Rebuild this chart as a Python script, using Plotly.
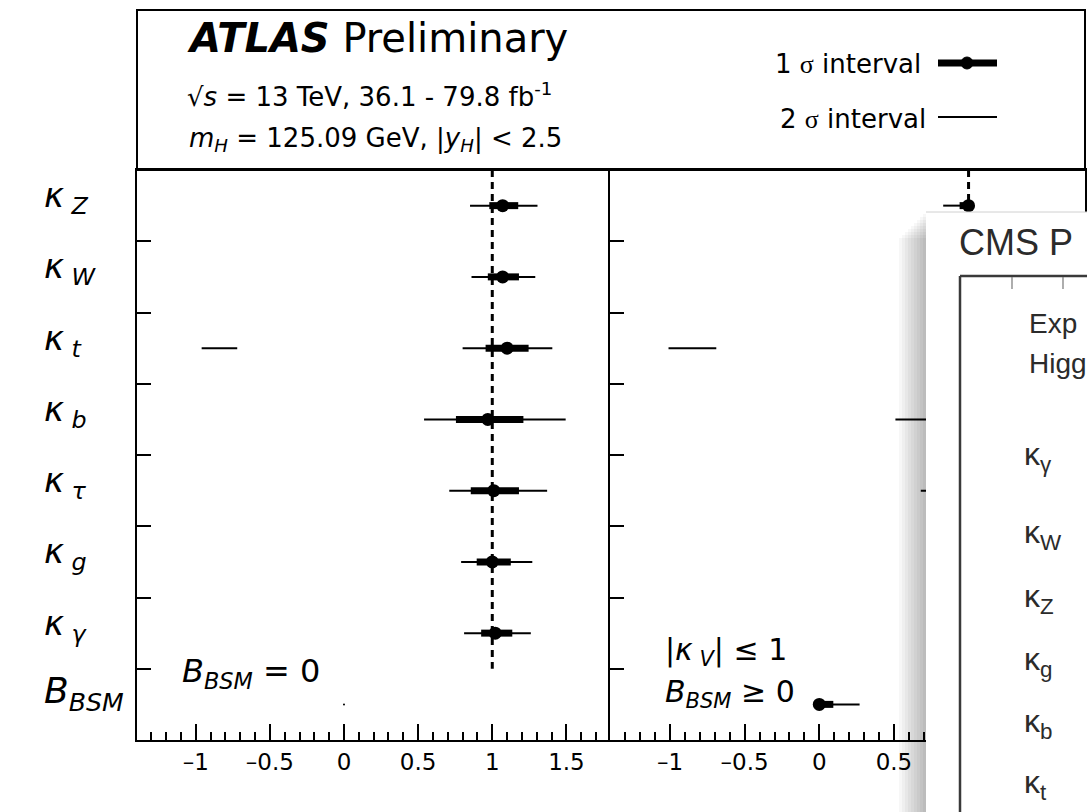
import plotly.graph_objects as go

W, H = 1087, 812

# ---------------- data ----------------
parameter_labels = [
    "<i>κ</i><sub><i> Z</i></sub>",
    "<i>κ</i><sub><i> W</i></sub>",
    "<i>κ</i><sub><i> t</i></sub>",
    "<i>κ</i><sub><i> b</i></sub>",
    "<i>κ</i><sub><i> τ</i></sub>",
    "<i>κ</i><sub><i> g</i></sub>",
    "<i>κ</i><sub><i> γ</i></sub>",
    "<i>B</i><sub><i>BSM</i></sub>",
]

# left panel (B_BSM = 0): kZ, kW, kt, kb, ktau, kg, kgamma
left_central = [1.07, 1.07, 1.10, 0.97, 1.01, 1.00, 1.02]
left_1s_low = [0.98, 0.97, 0.955, 0.755, 0.855, 0.895, 0.925]
left_1s_high = [1.175, 1.18, 1.245, 1.21, 1.18, 1.125, 1.135]
left_2s_low = [0.85, 0.86, 0.80, 0.54, 0.71, 0.79, 0.81]
left_2s_high = [1.305, 1.29, 1.405, 1.495, 1.37, 1.27, 1.26]
left_extra_row = [2]
left_extra_low = [-0.96]
left_extra_high = [-0.72]
left_bbsm_fixed = [0.0]

# right panel (|kV| <= 1, B_BSM >= 0): kZ, kW, kt, kb, ktau, kg, kgamma, B_BSM
right_central = [1.00, 1.00, 1.00, 0.93, 0.97, 0.98, 0.98, 0.00]
right_1s_low = [0.94, 0.93, 0.90, 0.74, 0.84, 0.89, 0.91, 0.00]
right_1s_high = [1.00, 1.00, 1.10, 1.12, 1.10, 1.08, 1.07, 0.094]
right_2s_low = [0.83, 0.86, 0.82, 0.51, 0.68, 0.80, 0.82, 0.00]
right_2s_high = [1.00, 1.00, 1.22, 1.40, 1.25, 1.20, 1.18, 0.27]
right_extra_row = [2]
right_extra_low = [-1.01]
right_extra_high = [-0.69]

x_tick_values = [-1, -0.5, 0, 0.5, 1, 1.5]
x_tick_text = ["–1", "–0.5", "0", "0.5", "1", "1.5"]

cms_labels = ["κ<sub>γ</sub>", "κ<sub>W</sub>", "κ<sub>Z</sub>",
              "κ<sub>g</sub>", "κ<sub>b</sub>", "κ<sub>t</sub>"]

# ---------------- layout helpers ----------------
SANS = "DejaVu Sans"
HELV = "Liberation Sans"


def px(xp):
    return xp / W


def py(yp):
    return 1 - yp / H


def seg(lows, highs, rows):
    xs, ys = [], []
    for lo, hi, r in zip(lows, highs, rows):
        xs += [lo, hi, None]
        ys += [r, r, None]
    return xs, ys


fig = go.Figure()


def add_panel(xa, ya, central, l1, h1, l2, h2, erow, elo, ehi):
    rows = list(range(len(central)))
    fig.add_trace(go.Scatter(x=[1, 1], y=[-0.5, 6.5], mode="lines",
                             line=dict(color="black", width=3, dash="7px,5px"),
                             xaxis=xa, yaxis=ya, hoverinfo="skip", showlegend=False))
    xs, ys = seg(l2, h2, rows)
    exs, eys = seg(elo, ehi, erow)
    fig.add_trace(go.Scatter(x=xs + exs, y=ys + eys, mode="lines",
                             line=dict(color="black", width=2),
                             xaxis=xa, yaxis=ya, hoverinfo="skip", showlegend=False))
    xs, ys = seg(l1, h1, rows)
    fig.add_trace(go.Scatter(x=xs, y=ys, mode="lines",
                             line=dict(color="black", width=7),
                             xaxis=xa, yaxis=ya, hoverinfo="skip", showlegend=False))
    fig.add_trace(go.Scatter(x=central, y=rows, mode="markers",
                             marker=dict(color="black", size=13),
                             xaxis=xa, yaxis=ya, hoverinfo="skip", showlegend=False))


add_panel("x", "y", left_central, left_1s_low, left_1s_high, left_2s_low, left_2s_high,
          left_extra_row, left_extra_low, left_extra_high)
fig.add_trace(go.Scatter(x=left_bbsm_fixed, y=[7], mode="markers",
                         marker=dict(color="black", size=2),
                         xaxis="x", yaxis="y", hoverinfo="skip", showlegend=False))
add_panel("x2", "y2", right_central, right_1s_low, right_1s_high, right_2s_low, right_2s_high,
          right_extra_row, right_extra_low, right_extra_high)

ydom = [py(740), py(170)]
xaxis_common = dict(showline=True, linewidth=2, linecolor="black", mirror=True,
                    ticks="inside", ticklen=16, tickwidth=1.5, tickcolor="black",
                    tickvals=x_tick_values, ticktext=x_tick_text,
                    tickfont=dict(family=SANS, size=23, color="black"),
                    ticklabelstandoff=0,
                    minor=dict(dtick=0.1, tick0=0, ticks="inside", ticklen=8,
                               tickwidth=1.5, tickcolor="black", showgrid=False),
                    showgrid=False, zeroline=False)
yaxis_common = dict(range=[7.5, -0.5], showline=True, linewidth=2, linecolor="black",
                    ticks="inside", ticklen=14, tickwidth=1.5,
                    tickcolor="black", tickvals=[0.5, 1.5, 2.5, 3.5, 4.5, 5.5, 6.5],
                    showticklabels=False, showgrid=False, zeroline=False, domain=ydom)

fig.update_layout(
    width=W, height=H, margin=dict(l=0, r=0, t=0, b=0),
    paper_bgcolor="white", plot_bgcolor="white", showlegend=False,
    xaxis=dict(domain=[px(137), px(610)], range=[-1.396, 1.794], anchor="y", **xaxis_common),
    xaxis2=dict(domain=[px(610), px(1085)], range=[-1.402, 1.780], anchor="y2", **xaxis_common),
    yaxis=dict(anchor="x", mirror=False, **yaxis_common),
    yaxis2=dict(anchor="x2", mirror=True, **yaxis_common),
)

shapes = []
# header box
shapes.append(dict(type="rect", xref="paper", yref="paper", x0=px(137), x1=px(1085),
                   y0=py(170), y1=py(10), line=dict(color="black", width=2), layer="below"))
# legend glyphs
shapes.append(dict(type="line", xref="paper", yref="paper", x0=px(938), x1=px(997),
                   y0=py(63), y1=py(63), line=dict(color="black", width=7)))
shapes.append(dict(type="circle", xref="paper", yref="paper", x0=px(961), x1=px(973),
                   y0=py(69), y1=py(57), fillcolor="black", line=dict(color="black", width=1)))
shapes.append(dict(type="line", xref="paper", yref="paper", x0=px(938), x1=px(997),
                   y0=py(117), y1=py(117), line=dict(color="black", width=2)))
# CMS window shadow
for i in range(9):
    shapes.append(dict(type="rect", xref="paper", yref="paper", x0=px(926 - 3 * (i + 1)),
                       x1=px(926), y0=py(812), y1=py(214 + 3 * i),
                       fillcolor="rgba(0,0,0,0.03)", line=dict(width=0), layer="above"))
# CMS window
shapes.append(dict(type="rect", xref="paper", yref="paper", x0=px(926), x1=px(1087),
                   y0=py(812), y1=py(212), fillcolor="white", line=dict(width=0), layer="above"))
shapes.append(dict(type="line", xref="paper", yref="paper", x0=px(926), x1=px(1087),
                   y0=py(212), y1=py(212), line=dict(color="#d0d0d0", width=1), layer="above"))
# CMS inner frame
shapes.append(dict(type="line", xref="paper", yref="paper", x0=px(960), x1=px(960),
                   y0=py(812), y1=py(276), line=dict(color="#3a3a3a", width=2.5), layer="above"))
shapes.append(dict(type="line", xref="paper", yref="paper", x0=px(960), x1=px(1087),
                   y0=py(276), y1=py(276), line=dict(color="#3a3a3a", width=2.5), layer="above"))
for tx in (1012, 1063):
    shapes.append(dict(type="line", xref="paper", yref="paper", x0=px(tx), x1=px(tx),
                       y0=py(277), y1=py(289), line=dict(color="#777777", width=1.2),
                       layer="above"))
fig.update_layout(shapes=shapes)

ann = []


def text(x, y, s, size, family=SANS, xanchor="left", color="black", yref="paper", yshift=0):
    ann.append(dict(x=px(x), y=py(y) if yref == "paper" else y, xref="paper", yref=yref,
                    text=s, showarrow=False, xanchor=xanchor, yanchor="middle",
                    font=dict(family=family, size=size, color=color), yshift=yshift))


# y-axis labels (row positions from the y axis)
for r, lab in enumerate(parameter_labels):
    if r == 7:
        text(42, r, lab, 36, yref="y", yshift=11)
    else:
        text(42, r, lab, 34, yref="y", yshift=8)

# header texts
text(185, 38, "<b><i>ATLAS</i></b> Preliminary", 40)
text(185, 95, "√<i>s</i> = 13 TeV, 36.1 - 79.8 fb<sup>-1</sup>", 26)
text(187, 139, "<i>m<sub>H</sub></i> = 125.09 GeV, |<i>y<sub>H</sub></i>| &lt; 2.5", 26)
text(923, 64, "1 <span style='font-family:Liberation Serif'>σ</span> interval", 26,
     xanchor="right")
text(928, 119, "2 <span style='font-family:Liberation Serif'>σ</span> interval", 26,
     xanchor="right")

# panel texts
text(180, 673, "<i>B</i><sub><i>BSM</i></sub> = 0", 32)
text(663, 651, "|<i>κ</i><sub><i> V</i></sub>| ≤ 1", 30)
text(663, 693, "<i>B</i><sub><i>BSM</i></sub> ≥ 0", 30)

# CMS window texts
text(957, 242, "CMS P", 36, family=HELV, color="#2b2b2b")
text(1027, 323, "Exp", 28, family=HELV, color="#2b2b2b")
text(1027, 363, "Higg", 28, family=HELV, color="#2b2b2b")
cms_label_y = [456, 534, 598, 661, 723, 784]
for lab, yy in zip(cms_labels, cms_label_y):
    text(1022, yy, lab, 32, family=HELV, color="#2b2b2b")

fig.update_layout(annotations=ann)

fig.write_html("out.html", config={"displayModeBar": False},
               post_script="document.body.style.margin='0';")
